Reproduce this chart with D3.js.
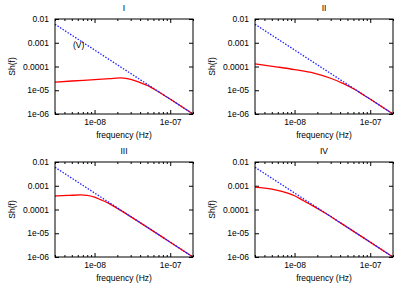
<!DOCTYPE html>
<html>
<head>
<meta charset="utf-8">
<script src="https://cdn.jsdelivr.net/npm/d3@7"></script>
<style>
  body { margin: 0; background: #fff; }
  text { font-family: "Liberation Sans", Arial, sans-serif; font-size: 8.5px; fill: #000; }
</style>
</head>
<body>
<svg id="chart" width="399" height="286"></svg>
<script>
// panel titles
const titles = ['I', 'II', 'III', 'IV']

// dotted reference line (f, Sh(f))
const blueLine = [[3e-9, 6e-3], [2e-7, 1e-6]]

// red curves (f, Sh(f))
const redI = [
  [3e-9, 2.2e-5], [5e-9, 2.45e-5], [1e-8, 2.8e-5], [1.6e-8, 3.1e-5], [2.2e-8, 3.3e-5],
  [2.7e-8, 3.1e-5], [3.3e-8, 2.6e-5], [4e-8, 2.1e-5], [5e-8, 1.6e-5], [6e-8, 1.15e-5],
  [8e-8, 6.6e-6], [1.2e-7, 2.9e-6], [2e-7, 1.0e-6]
]
const redII = [
  [3e-9, 1.3e-4], [6e-9, 9.5e-5], [1e-8, 7.4e-5], [1.8e-8, 5.3e-5], [3e-8, 3.2e-5],
  [4.5e-8, 1.85e-5], [6e-8, 1.15e-5], [8e-8, 6.6e-6], [1.2e-7, 2.9e-6], [2e-7, 1.0e-6]
]
const redIII = [
  [3e-9, 3.7e-4], [4.5e-9, 3.9e-4], [6.5e-9, 4.1e-4], [8e-9, 3.95e-4], [1e-8, 3.3e-4],
  [1.2e-8, 2.6e-4], [1.5e-8, 1.9e-4], [2e-8, 1.12e-4], [3e-8, 5.0e-5], [5e-8, 1.77e-5],
  [1e-7, 4.2e-6], [2e-7, 1.0e-6]
]
const redIV = [
  [3e-9, 8.8e-4], [5e-9, 7.2e-4], [7e-9, 5.6e-4], [1e-8, 3.8e-4], [1.3e-8, 2.4e-4],
  [1.7e-8, 1.5e-4], [2.5e-8, 7.3e-5], [4e-8, 2.8e-5], [8e-8, 6.7e-6], [2e-7, 1.0e-6]
]
const redCurves = [redI, redII, redIII, redIV]

// axes
const xDomain = [3e-9, 2e-7]
const yDomain = [1e-6, 1e-2]
const xTickValues = [1e-8, 1e-7]
const xTickLabels = ['1e-08', '1e-07']
const yTickValues = [1e-2, 1e-3, 1e-4, 1e-5, 1e-6]
const yTickLabels = ['0.01', '0.001', '0.0001', '1e-05', '1e-06']

const xLabel = 'frequency (Hz)'
const yLabel = 'Sh(f)'
const annotation = '(V)'

const svg = d3.select('#chart')

const panelOrigins = [[0, 0], [200, 0], [0, 143], [200, 143]]
const box = { left: 55, top: 19, width: 138, height: 95 }

const x = d3.scaleLog().domain(xDomain).range([0, box.width])
const y = d3.scaleLog().domain(yDomain).range([box.height, 0])

const line = d3.line()
  .x((d) => x(d[0]))
  .y((d) => y(d[1]))
  .curve(d3.curveMonotoneX)

const minorTicks = x.ticks().filter((t) => !xTickValues.some((v) => Math.abs(v - t) / v < 1e-6))

function drawPanel (i) {
  const [ox, oy] = panelOrigins[i]
  const panel = svg.append('g').attr('transform', `translate(${ox},${oy})`)

  panel.append('text')
    .attr('x', box.left + box.width / 2)
    .attr('y', 11)
    .attr('text-anchor', 'middle')
    .text(titles[i])

  const g = panel.append('g').attr('transform', `translate(${box.left},${box.top})`)

  g.append('clipPath').attr('id', 'clip' + i)
    .append('rect').attr('width', box.width).attr('height', box.height)

  // bottom major ticks with labels
  const xAxis = g.append('g')
    .attr('transform', `translate(0,${box.height})`)
    .call(d3.axisBottom(x).tickValues(xTickValues).tickSize(-4).tickPadding(5)
      .tickFormat((d, j) => xTickLabels[j]))
  // bottom minor ticks
  g.append('g')
    .attr('transform', `translate(0,${box.height})`)
    .call(d3.axisBottom(x).tickValues(minorTicks).tickSize(-2).tickFormat(''))
  // top mirror
  g.append('g')
    .call(d3.axisTop(x).tickValues(xTickValues).tickSize(-4).tickFormat(''))
  g.append('g')
    .call(d3.axisTop(x).tickValues(minorTicks).tickSize(-2).tickFormat(''))
  // left ticks with labels
  const yAxis = g.append('g')
    .call(d3.axisLeft(y).tickValues(yTickValues).tickSize(-4).tickPadding(6)
      .tickFormat((d, j) => yTickLabels[j]))
  // right mirror
  g.append('g')
    .attr('transform', `translate(${box.width},0)`)
    .call(d3.axisRight(y).tickValues(yTickValues).tickSize(-4).tickFormat(''))

  g.selectAll('.domain').remove()
  g.selectAll('.tick line').attr('stroke', '#000').attr('stroke-width', 1)
  xAxis.selectAll('text').attr('font-size', 8.5).attr('font-family', null)
  yAxis.selectAll('text').attr('font-size', 8.5).attr('font-family', null)

  const plot = g.append('g').attr('clip-path', `url(#clip${i})`)

  plot.append('path')
    .datum(redCurves[i])
    .attr('fill', 'none')
    .attr('stroke', '#ff0000')
    .attr('stroke-width', 1.3)
    .attr('d', line)

  plot.append('path')
    .datum(blueLine)
    .attr('fill', 'none')
    .attr('stroke', '#2020ff')
    .attr('stroke-width', 1.3)
    .attr('stroke-dasharray', '1.5,1.5')
    .attr('d', line)

  g.append('rect')
    .attr('width', box.width)
    .attr('height', box.height)
    .attr('fill', 'none')
    .attr('stroke', '#000')
    .attr('stroke-width', 1)

  if (i === 0) {
    g.append('text')
      .attr('x', 18)
      .attr('y', 29)
      .text(annotation)
  }

  panel.append('text')
    .attr('x', box.left + box.width / 2)
    .attr('y', box.top + box.height + 24)
    .attr('text-anchor', 'middle')
    .text(xLabel)

  panel.append('text')
    .attr('transform', `translate(15,${box.top + box.height / 2}) rotate(-90)`)
    .attr('text-anchor', 'middle')
    .text(yLabel)
}

for (let i = 0; i < 4; i++) drawPanel(i)
</script>
</body>
</html>
